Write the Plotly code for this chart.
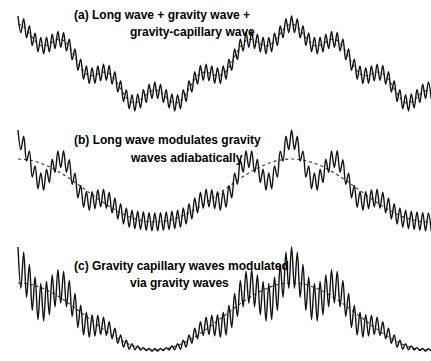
import numpy as np
import plotly.graph_objects as go

# Surface elevation at successive ripple crests/troughs (one sample every half ripple)
# (a) long wave + gravity wave + gravity-capillary wave
eta_a = [49.5, 32.8, 46.7, 27.6, 39.9, 20.0, 32.5, 13.8, 28.1, 11.6,
         28.2, 13.6, 31.3, 17.0, 34.1, 18.2, 33.0, 14.5, 26.6, 5.9,
         16.5, -4.8, 6.3, -13.7, -0.5, -18.0, -2.3, -17.7, -0.5, -15.4,
         1.4, -14.8, 0.0, -18.5, -6.1, -26.5, -15.3, -36.1, -24.2, -43.3,
         -29.1, -45.5, -28.5, -42.5, -23.9, -37.1, -18.7, -33.1, -16.5, -33.1,
         -18.7, -37.1, -23.9, -42.5, -28.5, -45.5, -29.1, -43.3, -24.2, -36.1,
         -15.3, -26.5, -6.1, -18.5, 0.0, -14.8, 1.4, -15.4, -0.5, -17.7,
         -2.3, -18.0, -0.5, -13.7, 6.3, -4.8, 16.5, 5.9, 26.6, 14.5,
         33.0, 18.2, 34.1, 17.0, 31.3, 13.6, 28.2, 11.6, 28.1, 13.8,
         32.5, 20.0, 39.9, 27.6, 46.7, 32.8,
         49.5, 32.8, 46.7, 27.6, 39.9, 20.0, 32.5, 13.8, 28.1, 11.6,
         28.2, 13.6, 31.3, 17.0, 34.1, 18.2, 33.0, 14.5, 26.6, 5.9,
         16.5, -4.8, 6.3, -13.7, -0.5, -18.0, -2.3, -17.7, -0.5, -15.4,
         1.4, -14.8, 0.0, -18.5, -6.1, -26.5, -15.3, -36.1, -24.2, -43.3,
         -29.1, -45.5, -28.5, -42.5, -23.9, -37.1, -18.7, -33.1, -16.5, -33.1]

# long wave + gravity wave (no ripples), every second sample
carrier_a = [41.5, 38.7, 31.9, 24.5, 20.1, 20.2, 23.3, 26.1, 25.0, 18.6,
             8.5, -1.7, -8.5, -10.3, -8.5, -6.6, -8.0, -14.1, -23.3, -32.2,
             -37.1, -36.5, -31.9, -26.7, -24.5,
             -26.7, -31.9, -36.5, -37.1, -32.2, -23.3, -14.1, -8.0, -6.6, -8.5,
             -10.3, -8.5, -1.7, 8.5, 18.6, 25.0, 26.1, 23.3, 20.2, 20.1,
             24.5, 31.9, 38.7, 41.5,
             38.7, 31.9, 24.5, 20.1, 20.2, 23.3, 26.1, 25.0, 18.6, 8.5,
             -1.7, -8.5, -10.3, -8.5, -6.6, -8.0, -14.1, -23.3, -32.2, -37.1,
             -36.5, -31.9, -26.7, -24.5]

# (b) long wave modulates gravity waves adiabatically
eta_b = [60.5, 40.9, 54.3, 29.5, 39.4, 13.4, 24.5, 1.7, 17.6, 0.3,
         21.3, 8.0, 31.3, 18.1, 39.6, 22.9, 39.8, 18.3, 30.8, 6.2,
         17.2, -7.4, 5.1, -16.8, -1.0, -19.7, -1.3, -18.2, 0.9, -16.5,
         1.3, -17.8, -1.8, -22.4, -7.4, -28.5, -13.3, -33.6, -17.5, -36.8,
         -19.6, -38.2, -20.6, -39.0, -21.4, -39.8, -22.2, -40.4, -22.5, -40.4,
         -22.2, -39.8, -21.4, -39.0, -20.6, -38.2, -19.6, -36.8, -17.5, -33.6,
         -13.3, -28.5, -7.4, -22.4, -1.8, -17.8, 1.3, -16.5, 0.9, -18.2,
         -1.3, -19.7, -1.0, -16.8, 5.1, -7.4, 17.2, 6.2, 30.8, 18.3,
         39.8, 22.9, 39.6, 18.1, 31.3, 8.0, 21.3, 0.3, 17.6, 1.7,
         24.5, 13.4, 39.4, 29.5, 54.3, 40.9,
         60.5, 40.9, 54.3, 29.5, 39.4, 13.4, 24.5, 1.7, 17.6, 0.3,
         21.3, 8.0, 31.3, 18.1, 39.6, 22.9, 39.8, 18.3, 30.8, 6.2,
         17.2, -7.4, 5.1, -16.8, -1.0, -19.7, -1.3, -18.2, 0.9, -16.5,
         1.3, -17.8, -1.8, -22.4, -7.4, -28.5, -13.3, -33.6, -17.5, -36.8,
         -19.6, -38.2, -20.6, -39.0, -21.4, -39.8, -22.2, -40.4, -22.5, -40.4]

# long wave alone, every fourth sample
long_b = [31.5, 30.4, 27.3, 22.3, 15.8, 8.2, 0.0, -8.2, -15.8, -22.3, -27.3, -30.4, -31.5,
          -30.4, -27.3, -22.3, -15.8, -8.2, 0.0, 8.2, 15.8, 22.3, 27.3, 30.4, 31.5,
          30.4, 27.3, 22.3, 15.8, 8.2, 0.0, -8.2, -15.8, -22.3, -27.3, -30.4, -31.5]

# (c) gravity-capillary waves modulated via gravity waves
eta_c = [69.5, 28.2, 64.4, 19.1, 52.1, 6.1, 39.5, -3.2, 33.1, -4.5,
         35.0, 1.6, 41.6, 9.6, 46.7, 13.3, 45.1, 9.6, 36.1, -0.1,
         23.1, -11.1, 11.4, -18.6, 4.3, -20.9, 1.9, -19.6, 1.3, -18.1,
         -0.6, -18.9, -5.2, -22.3, -11.8, -26.8, -18.5, -30.6, -23.7, -32.7,
         -27.1, -33.3, -29.4, -33.5, -31.1, -34.0, -32.0, -34.6, -32.3, -34.6,
         -32.0, -34.0, -31.1, -33.5, -29.4, -33.3, -27.1, -32.7, -23.7, -30.6,
         -18.5, -26.8, -11.8, -22.3, -5.2, -18.9, -0.6, -18.1, 1.3, -19.6,
         1.9, -20.9, 4.3, -18.6, 11.4, -11.1, 23.1, -0.1, 36.1, 9.6,
         45.1, 13.3, 46.7, 9.6, 41.6, 1.6, 35.0, -4.5, 33.1, -3.2,
         39.5, 6.1, 52.1, 19.1, 64.4, 28.2,
         69.5, 28.2, 64.4, 19.1, 52.1, 6.1, 39.5, -3.2, 33.1, -4.5,
         35.0, 1.6, 41.6, 9.6, 46.7, 13.3, 45.1, 9.6, 36.1, -0.1,
         23.1, -11.1, 11.4, -18.6, 4.3, -20.9, 1.9, -19.6, 1.3, -18.1,
         -0.6, -18.9, -5.2, -22.3, -11.8, -26.8, -18.5, -30.6, -23.7, -32.7,
         -27.1, -33.3, -29.4, -33.5, -31.1, -34.0, -32.0, -34.6, -32.3, -34.6]

long_c = [33.5, 32.4, 29.0, 23.7, 16.8, 8.7, 0.0, -8.7, -16.8, -23.7, -29.0, -32.4, -33.5,
          -32.4, -29.0, -23.7, -16.8, -8.7, 0.0, 8.7, 16.8, 23.7, 29.0, 32.4, 33.5,
          32.4, 29.0, 23.7, 16.8, 8.7, 0.0, -8.7, -16.8, -23.7, -29.0, -32.4, -33.5]

labels = [
    ("(a) Long wave + gravity wave +", "gravity-capillary wave"),
    ("(b) Long wave modulates gravity", "waves adiabatically"),
    ("(c) Gravity capillary waves modulated", "via gravity waves"),
]

W, H = 431, 361
x_solid = np.arange(len(eta_a))
x_dot_a = np.arange(len(carrier_a)) * 2
x_dot_bc = np.arange(len(long_b)) * 4

fig = go.Figure()
panels = [
    (eta_a, x_dot_a, carrier_a, "y"),
    (eta_b, x_dot_bc, long_b, "y2"),
    (eta_c, x_dot_bc, long_c, "y3"),
]
for eta, xd, dot, yax in panels:
    fig.add_trace(go.Scatter(x=xd, y=dot, yaxis=yax, mode="lines",
                             line=dict(color="#333333", width=1.1, dash="dot",
                                       shape="spline"),
                             hoverinfo="skip", showlegend=False))
    fig.add_trace(go.Scatter(x=x_solid, y=eta, yaxis=yax, mode="lines",
                             line=dict(color="#111111", width=1.4, shape="spline"),
                             hoverinfo="skip", showlegend=False))

# pixel bands of the three panels and the mean water level in each
bands = [(0, 120, 65.5), (120, 240, 190.5), (240, H, 316.5)]
axis_common = dict(visible=False, showgrid=False, zeroline=False, fixedrange=True)
for i, (top, bot, mean) in enumerate(bands):
    key = "yaxis" if i == 0 else f"yaxis{i + 1}"
    fig.layout[key] = dict(domain=[1 - bot / H, 1 - top / H],
                           range=[mean - bot, mean - top], **axis_common)

step = 2.85
x0 = 18.0
fig.update_layout(
    width=W, height=H,
    margin=dict(l=0, r=0, t=0, b=0),
    paper_bgcolor="white", plot_bgcolor="white",
    xaxis=dict(range=[-x0 / step, (W - x0) / step], **axis_common),
    showlegend=False,
)

text_font = dict(family="Liberation Sans, Arial, sans-serif", size=12, color="black")
line_rows = [(15, 32), (140, 158), (266, 283)]
for (first, second), (y1, y2) in zip(labels, line_rows):
    fig.add_annotation(text=f"<b>{first}</b>", xref="paper", yref="paper",
                       x=72 / W, y=1 - y1 / H, xanchor="left", yanchor="middle",
                       showarrow=False, font=text_font)
    fig.add_annotation(text=f"<b>{second}</b>", xref="paper", yref="paper",
                       x=128 / W, y=1 - y2 / H, xanchor="left", yanchor="middle",
                       showarrow=False, font=text_font)

fig.write_html("out.html")
